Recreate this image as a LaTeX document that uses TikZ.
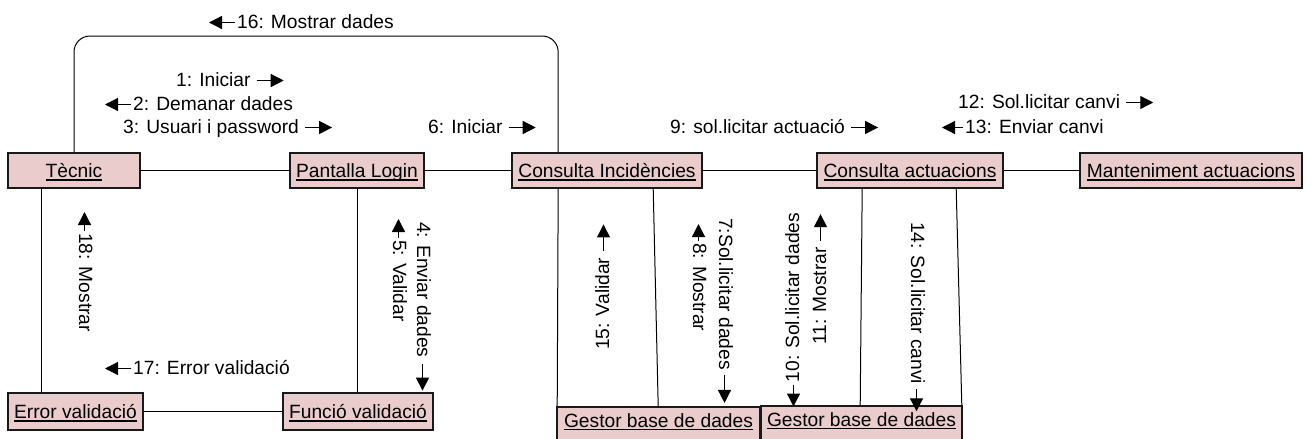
\documentclass[tikz,border=0pt]{standalone}
\usepackage{fontspec}
\setmainfont{Liberation Sans}
\usetikzlibrary{arrows.meta}
\definecolor{boxpink}{RGB}{235,204,204}
\newcommand\lbl{\fontsize{19.2pt}{23pt}\selectfont}
\newcommand\myul[1]{\setbox0=\hbox{#1}\rlap{\rule[-3.2pt]{\wd0}{1.3pt}}\box0}
\begin{document}
\begin{tikzpicture}[x=1pt,y=1pt,
  box/.style={draw=black!90, line width=1.6pt, fill=boxpink, inner sep=0pt,
    text height=17pt, text depth=3pt, font=\lbl, minimum height=35pt},
  conn/.style={line width=1pt, draw=black},
  lab/.style={font=\lbl, inner sep=0pt, anchor=base west},
  msg/.style={line width=1.3pt, -{Triangle[length=13pt,width=13pt]}}]
\useasboundingbox (0,0) rectangle (1312,-439);
\fill[white] (0,0) rectangle (1312,-439);
% boxes
\node[box, minimum width=132pt] (tec) at (74,-170.5) {\myul{Tècnic}};
\node[box, minimum width=134pt] (pl) at (357,-170.5) {\myul{Pantalla Login}};
\node[box, minimum width=190pt] (ci) at (607,-170.5) {\myul{Consulta Incidències}};
\node[box, minimum width=186pt] (ca) at (910,-170.5) {\myul{Consulta actuacions}};
\node[box, minimum width=222pt] (ma) at (1191,-170.5) {\myul{Manteniment actuacions}};
\node[box, minimum width=135pt, minimum height=37pt] (ev) at (75.5,-411.5) {\myul{Error validació}};
\node[box, minimum width=150pt, minimum height=37pt] (fv) at (358,-411.5) {\myul{Funció validació}};
\node[box, minimum width=203pt, minimum height=53pt, text depth=30pt] (g1) at (658.5,-433.5) {\myul{Gestor base de dades}};
\node[box, minimum width=201pt, minimum height=53pt, text depth=30pt] (g2) at (861.5,-432.5) {\myul{Gestor base de dades}};
% connectors
\coordinate (top) at (0,-36);
\draw[conn] (tec.east) -- (pl.west);
\draw[conn] (pl.east) -- (ci.west);
\draw[conn] (ci.east) -- (ca.west);
\draw[conn] (ca.east) -- (ma.west);
\draw[conn] (ev.east) -- (fv.west);
\draw[conn] ([xshift=34pt]tec.south west) -- ([xshift=34pt]ev.north west);
\draw[conn] (pl.south) -- (pl.south |- fv.north);
\draw[conn, rounded corners=16pt] (tec.north) -- (tec.north |- top) -- ([xshift=47pt]ci.north west |- top) -- ([xshift=47pt]ci.north west);
\draw[conn] ([xshift=47pt]ci.south west) -- ([xshift=1pt]g1.north west);
\draw[conn] ([xshift=142pt]ci.south west) -- ([xshift=102pt]g1.north west);
\draw[conn] ([xshift=46pt]ca.south west) -- ([xshift=100pt]g2.north west);
\draw[conn] ([xshift=140pt]ca.south west) -- ([xshift=-1pt]g2.north east);
% horizontal messages
\node[lab] (m16) at (237,-28) {16: Mostrar dades};
\draw[msg] ([shift={(-2pt,5.5pt)}]m16.base west) -- ++(-26pt,0);
\node[lab] (m1) at (176,-86) {1: Iniciar};
\draw[msg] ([shift={(6pt,5.5pt)}]m1.base east) -- ++(27pt,0);
\node[lab] (m2) at (133,-110) {2: Demanar dades};
\draw[msg] ([shift={(-2pt,5.5pt)}]m2.base west) -- ++(-26pt,0);
\node[lab] (m3) at (123,-133) {3: Usuari i password};
\draw[msg] ([shift={(6pt,5.5pt)}]m3.base east) -- ++(27pt,0);
\node[lab] (m6) at (428,-133) {6: Iniciar};
\draw[msg] ([shift={(6pt,5.5pt)}]m6.base east) -- ++(27pt,0);
\node[lab] (m9) at (670,-133) {9: sol.licitar actuació};
\draw[msg] ([shift={(6pt,5.5pt)}]m9.base east) -- ++(27pt,0);
\node[lab] (m12) at (958,-108) {12: Sol.licitar canvi};
\draw[msg] ([shift={(6pt,5.5pt)}]m12.base east) -- ++(27pt,0);
\node[lab] (m13) at (965,-133) {13: Enviar canvi};
\draw[msg] ([shift={(-2pt,5.5pt)}]m13.base west) -- ++(-21pt,0);
\node[lab] (m17) at (133,-374) {17: Error validació};
\draw[msg] ([shift={(-2pt,5.5pt)}]m17.base west) -- ++(-26pt,0);
% vertical messages, reading downwards
\node[lab, rotate=-90] (m18) at (79,-233) {18: Mostrar};
\draw[msg] ([shift={(5.5pt,2pt)}]m18.base west) -- ++(0,19pt);
\node[lab, rotate=-90] (m4) at (417,-222) {4: Enviar dades};
\draw[msg] ([shift={(5.5pt,-6pt)}]m4.base east) -- ++(0,-27pt);
\node[lab, rotate=-90] (m5) at (393,-240) {5: Validar};
\draw[msg] ([shift={(5.5pt,2pt)}]m5.base west) -- ++(0,19pt);
\node[lab, rotate=-90] (m8) at (693,-243) {8: Mostrar};
\draw[msg] ([shift={(5.5pt,2pt)}]m8.base west) -- ++(0,17pt);
\node[lab, rotate=-90] (m7) at (719,-218) {7:Sol.licitar dades};
\draw[msg] ([shift={(5.5pt,-5pt)}]m7.base east) -- ++(0,-28pt);
\node[lab, rotate=-90] (m14) at (911,-222) {14: Sol.licitar canvi};
\draw[msg] ([shift={(5.5pt,-5pt)}]m14.base east) -- ++(0,-22pt);
% vertical messages, reading upwards
\node[lab, rotate=90] (m15) at (609,-350) {15: Validar};
\draw[msg] ([shift={(-5.5pt,6pt)}]m15.base east) -- ++(0,27pt);
\node[lab, rotate=90] (m10) at (799,-382.5) {10: Sol.licitar dades};
\draw[msg] ([shift={(-5.5pt,-2pt)}]m10.base west) -- ++(0,-22pt);
\node[lab, rotate=90] (m11) at (826,-345) {11: Mostrar};
\draw[msg] ([shift={(-5.5pt,6pt)}]m11.base east) -- ++(0,27pt);
\end{tikzpicture}
\end{document}
